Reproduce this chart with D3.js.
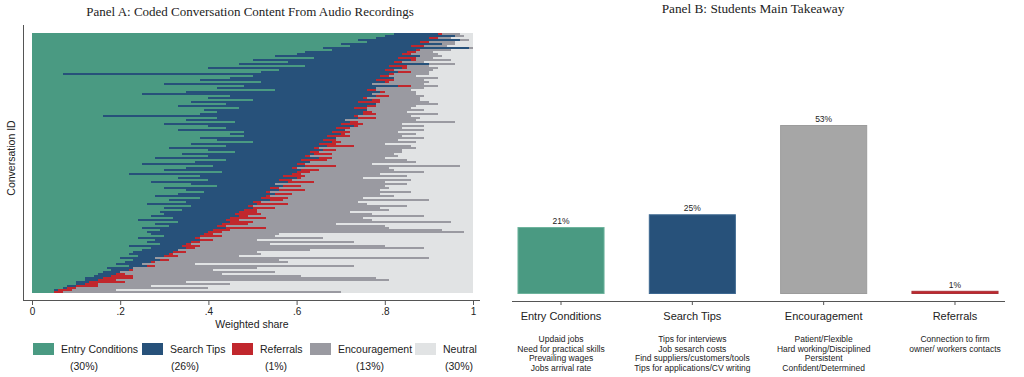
<!DOCTYPE html>
<html><head><meta charset="utf-8">
<script src="https://cdn.jsdelivr.net/npm/d3@7"></script>
<style>body{margin:0;background:#fff}svg{display:block}</style>
</head><body>
<svg id="c" width="1024" height="377"></svg>
<script>
// ---------- Panel A data (one value per conversation, sorted) ----------
const entryShare = [
0.82,0.80,0.78,0.74,0.76,0.70,0.72,0.66,0.68,0.62,
0.60,0.55,0.64,0.50,0.58,0.47,0.62,0.40,0.56,0.52,
0.07,0.50,0.45,0.38,0.52,0.30,0.48,0.42,0.55,0.35,
0.25,0.45,0.40,0.50,0.36,0.44,0.33,0.47,0.39,0.42,
0.38,0.16,0.42,0.35,0.46,0.30,0.40,0.44,0.33,0.48,
0.45,0.48,0.38,0.42,0.50,0.36,0.44,0.31,0.40,0.46,
0.34,0.40,0.28,0.44,0.37,0.25,0.41,0.35,0.30,0.43,
0.22,0.38,0.33,0.40,0.27,0.36,0.42,0.30,0.35,0.39,
0.33,0.28,0.38,0.31,0.35,0.26,0.36,0.30,0.34,0.29,
0.30,0.27,0.32,0.24,0.33,0.28,0.31,0.25,0.29,0.26,
0.27,0.30,0.24,0.28,0.26,0.29,0.22,0.27,0.25,0.23,
0.22,0.24,0.20,0.23,0.21,0.19,0.22,0.17,0.18,0.16,
0.15,0.14,0.12,0.12,0.10,0.10,0.08,0.07,0.05,0.05];
const searchShare = [
0.10,0.16,0.12,0.23,0.12,0.23,0.14,0.33,0.19,0.23,
0.24,0.33,0.19,0.36,0.24,0.43,0.19,0.44,0.24,0.31,
0.74,0.29,0.37,0.40,0.28,0.47,0.35,0.36,0.21,0.44,
0.52,0.33,0.35,0.27,0.38,0.34,0.43,0.26,0.37,0.33,
0.37,0.57,0.32,0.36,0.26,0.40,0.33,0.25,0.38,0.20,
0.25,0.19,0.31,0.24,0.18,0.29,0.23,0.33,0.26,0.17,
0.30,0.22,0.37,0.17,0.26,0.35,0.21,0.24,0.31,0.17,
0.37,0.19,0.27,0.16,0.31,0.19,0.15,0.24,0.21,0.14,
0.22,0.25,0.14,0.23,0.15,0.25,0.13,0.20,0.14,0.18,
0.16,0.20,0.13,0.20,0.12,0.15,0.11,0.19,0.12,0.14,
0.12,0.08,0.13,0.10,0.10,0.06,0.12,0.08,0.08,0.09,
0.09,0.06,0.08,0.06,0.06,0.06,0.04,0.06,0.04,0.04,
0.04,0.04,0.04,0.03,0.03,0.02,0.02,0.01,0.01,0.00];
const referralShare = [
0.01,0.00,0.02,0.00,0.02,0.00,0.03,0.00,0.01,0.02,
0.02,0.00,0.04,0.01,0.02,0.00,0.04,0.01,0.02,0.03,
0.01,0.02,0.00,0.04,0.01,0.00,0.03,0.00,0.02,0.01,
0.00,0.03,0.01,0.02,0.05,0.00,0.02,0.03,0.00,0.02,
0.03,0.01,0.04,0.00,0.02,0.05,0.01,0.03,0.00,0.04,
0.01,0.05,0.00,0.03,0.02,0.04,0.06,0.01,0.03,0.02,
0.04,0.01,0.03,0.06,0.00,0.02,0.07,0.01,0.04,0.03,
0.02,0.05,0.01,0.03,0.06,0.00,0.04,0.02,0.06,0.01,
0.04,0.01,0.06,0.03,0.02,0.07,0.01,0.05,0.03,0.04,
0.06,0.02,0.08,0.03,0.05,0.06,0.02,0.09,0.04,0.03,
0.02,0.05,0.01,0.03,0.02,0.01,0.04,0.02,0.00,0.03,
0.01,0.03,0.00,0.02,0.01,0.00,0.02,0.00,0.01,0.00,
0.02,0.05,0.07,0.04,0.08,0.03,0.05,0.02,0.03,0.02];
const encouragementShare = [
0.04,0.02,0.03,0.02,0.06,0.03,0.05,0.01,0.07,0.04,
0.06,0.05,0.04,0.08,0.05,0.06,0.05,0.07,0.09,0.04,
0.08,0.06,0.10,0.07,0.09,0.12,0.06,0.11,0.08,0.07,
0.10,0.08,0.12,0.09,0.11,0.14,0.09,0.10,0.13,0.08,
0.14,0.12,0.10,0.16,0.22,0.09,0.15,0.12,0.18,0.11,
0.16,0.12,0.20,0.14,0.17,0.11,0.13,0.22,0.15,0.19,
0.14,0.20,0.12,0.18,0.24,0.15,0.28,0.21,0.17,0.26,
0.18,0.23,0.14,0.27,0.16,0.30,0.19,0.25,0.17,0.32,
0.20,0.28,0.17,0.33,0.22,0.18,0.35,0.24,0.30,0.21,
0.25,0.40,0.22,0.30,0.45,0.20,0.36,0.28,0.48,0.55,
0.15,0.12,0.28,0.10,0.35,0.18,0.42,0.52,0.30,0.16,
0.20,0.14,0.62,0.25,0.30,0.12,0.45,0.28,0.18,0.35,
0.22,0.38,0.55,0.62,0.14,0.30,0.12,0.30,0.10,0.63];

const seriesKeys   = ["entry","search","referral","encour","neutral"];
const seriesLabels = ["Entry Conditions","Search Tips","Referrals","Encouragement","Neutral"];
const seriesTotals = ["(30%)","(26%)","(1%)","(13%)","(30%)"];
const xTicksA = [0,0.2,0.4,0.6,0.8,1];

// ---------- Panel B data ----------
const takeawayCats   = ["Entry Conditions","Search Tips","Encouragement","Referrals"];
const takeawayValues = [0.21,0.25,0.53,0.01];
const takeawayLabels = ["21%","25%","53%","1%"];
const takeawayDetails = [
  ["Updaid jobs","Need for practical skills","Prevailing wages","Jobs arrival rate"],
  ["Tips for interviews","Job sesarch costs","Find suppliers/customers/tools","Tips for applications/CV writing"],
  ["Patient/Flexible","Hard working/Disciplined","Persistent","Confident/Determined"],
  ["Connection to firm","owner/ workers contacts"]
];

const colors = {entry:"#4a9a82", search:"#27517a", referral:"#c1272d", encour:"#9a9aa1", neutral:"#e1e3e4"};
const barColorsB = ["#4a9a82","#27517a","#a6a6a6","#c1272d"];
const barStrokeB = ["#6db39c","#3d6891","#9c9c9c","#a83238"];

const svg = d3.select("#c");
const sans = "'Liberation Sans', Arial, sans-serif";
const serif = "'Liberation Serif', 'DejaVu Serif', serif";

// ================= Panel A =================
const rows = entryShare.map((e,i)=>({
  id:i, entry:e, search:searchShare[i], referral:referralShare[i], encour:encouragementShare[i],
  neutral: Math.max(0, 1 - e - searchShare[i] - referralShare[i] - encouragementShare[i])
}));
const xA = d3.scaleLinear().domain([0,1]).range([32,473]);
const yA = d3.scaleBand().domain(rows.map(d=>d.id)).range([33,293]).padding(0);
const stacked = d3.stack().keys(seriesKeys)(rows);

const gA = svg.append("g");
gA.selectAll("g.layer").data(stacked).join("g").attr("class","layer")
  .attr("fill", d=>colors[d.key])
  .selectAll("rect").data(d=>d).join("rect")
  .attr("x", d=>xA(d[0]))
  .attr("y", d=>yA(d.data.id))
  .attr("width", d=>Math.max(0, xA(d[1])-xA(d[0])))
  .attr("height", yA.bandwidth())
  .attr("shape-rendering","crispEdges");

// axes
const axA = gA.append("g").attr("transform","translate(0,300)")
  .call(d3.axisBottom(xA).tickValues(xTicksA).tickSize(5).tickPadding(3)
    .tickFormat(d=> d===0 ? "0" : d===1 ? "1" : d3.format(".1f")(d).replace(/^0/,"")));
axA.select(".domain").remove();
axA.selectAll(".tick line").attr("stroke","#555");
axA.selectAll(".tick text").attr("font-family",sans).attr("font-size",10).attr("fill","#222");
gA.append("line").attr("x1",23).attr("x2",480).attr("y1",300.5).attr("y2",300.5).attr("stroke","#555");
gA.append("line").attr("x1",23.5).attr("x2",23.5).attr("y1",25).attr("y2",300).attr("stroke","#555");

gA.append("text").attr("x",250).attr("y",16).attr("text-anchor","middle")
  .attr("font-family",serif).attr("font-size",13).attr("fill","#222")
  .text("Panel A: Coded Conversation Content From Audio Recordings");
gA.append("text").attr("transform","translate(15,158) rotate(-90)").attr("text-anchor","middle")
  .attr("font-family",sans).attr("font-size",10.5).attr("fill","#222").text("Conversation ID");
gA.append("text").attr("x",252).attr("y",328).attr("text-anchor","middle")
  .attr("font-family",sans).attr("font-size",10.5).attr("fill","#222").text("Weighted share");

// legend
const legX = [33,142,232,310,415];
const legPctX = [84,185,276,370,459];
const leg = gA.append("g");
seriesKeys.forEach((k,i)=>{
  leg.append("rect").attr("x",legX[i]).attr("y",343).attr("width",21).attr("height",12).attr("fill",colors[k]);
  leg.append("text").attr("x",legX[i]+28).attr("y",353).attr("font-family",sans).attr("font-size",10.5)
    .attr("fill","#222").text(seriesLabels[i]);
  leg.append("text").attr("x",legPctX[i]).attr("y",370).attr("text-anchor","middle").attr("font-family",sans)
    .attr("font-size",10.5).attr("fill","#222").text(seriesTotals[i]);
});

// ================= Panel B =================
const step = 131.3;
const xB = d3.scaleBand().domain(takeawayCats).range([561-step/2, 955+step/2]).paddingInner(0.337).paddingOuter(0.1685);
const yB = d3.scaleLinear().domain([0,0.53]).range([294,125]);
const gB = svg.append("g");
gB.selectAll("rect.bar").data(takeawayValues).join("rect").attr("class","bar")
  .attr("x",(d,i)=>xB(takeawayCats[i])+0.5)
  .attr("y",d=>yB(d)+0.5)
  .attr("width",xB.bandwidth()-1)
  .attr("height",d=>Math.max(2, yB(0)-yB(d)-1))
  .attr("fill",(d,i)=>barColorsB[i]).attr("stroke",(d,i)=>barStrokeB[i]).attr("stroke-width",1);
gB.selectAll("text.val").data(takeawayValues).join("text").attr("class","val")
  .attr("x",(d,i)=>xB(takeawayCats[i])+xB.bandwidth()/2).attr("y",d=>yB(d)-3)
  .attr("text-anchor","middle").attr("font-family",sans).attr("font-size",8.5).attr("fill","#222")
  .text((d,i)=>takeawayLabels[i]);

const axB = gB.append("g").attr("transform","translate(0,301)")
  .call(d3.axisBottom(xB).tickSize(4).tickPadding(7));
axB.select(".domain").remove();
axB.selectAll(".tick line").attr("stroke","#555");
axB.selectAll(".tick text").attr("font-family",sans).attr("font-size",11).attr("fill","#222");
gB.append("line").attr("x1",512).attr("x2",1005).attr("y1",301.5).attr("y2",301.5).attr("stroke","#555");

takeawayDetails.forEach((lines,i)=>{
  const cx = xB(takeawayCats[i])+xB.bandwidth()/2;
  lines.forEach((t,j)=>{
    gB.append("text").attr("x",cx).attr("y",342+j*9.7).attr("text-anchor","middle")
      .attr("font-family",sans).attr("font-size",8.5).attr("fill","#222").text(t);
  });
});
gB.append("text").attr("x",753).attr("y",13).attr("text-anchor","middle")
  .attr("font-family",serif).attr("font-size",13.3).attr("fill","#222").text("Panel B: Students Main Takeaway");
</script>
</body></html>
